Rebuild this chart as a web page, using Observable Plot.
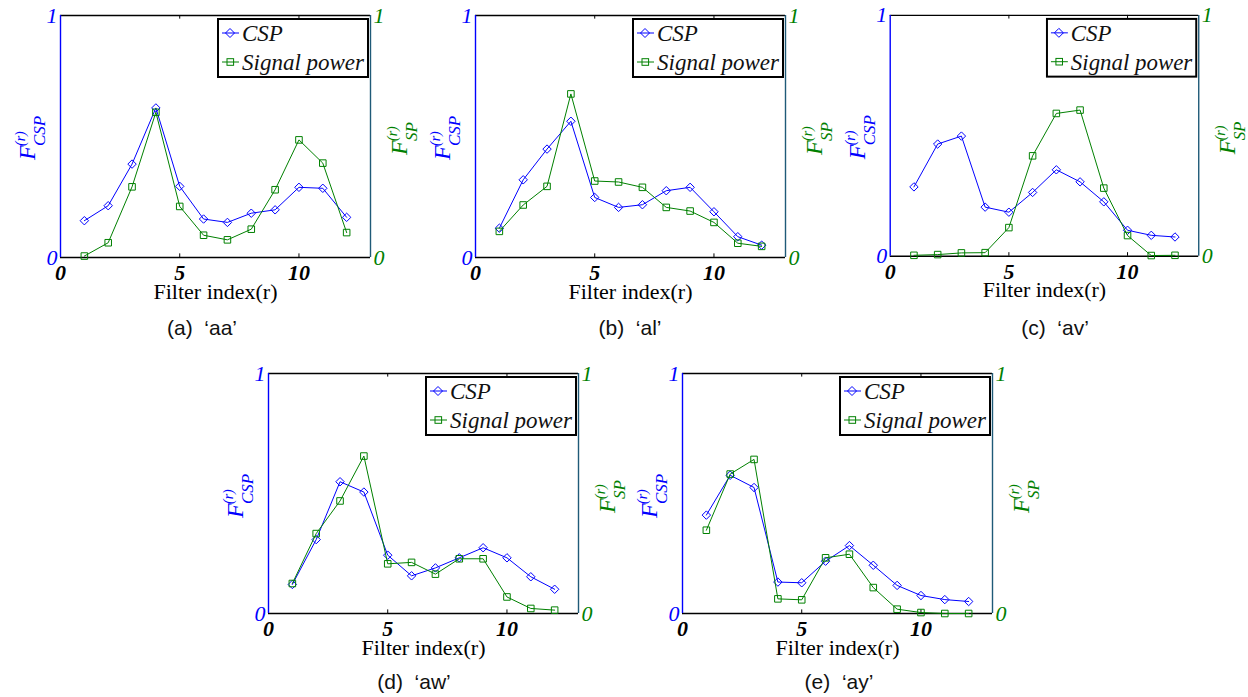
<!DOCTYPE html>
<html><head><meta charset="utf-8">
<script src="https://cdn.jsdelivr.net/npm/d3@7"></script>
<script src="https://cdn.jsdelivr.net/npm/@observablehq/plot@0.6"></script>
<style>
body{margin:0;background:#fff;}
#wrap{position:relative;width:1248px;height:697px;overflow:hidden;background:#fff;}
.panel{position:absolute;}
.cap{position:absolute;width:200px;text-align:center;font-family:"Liberation Sans",Arial,sans-serif;font-size:21px;line-height:22px;white-space:pre;color:#111;}
svg [aria-label="x-axis tick label"] text{font-family:"Liberation Serif",serif;font-weight:bold;font-style:italic;font-size:22px;}
svg [aria-label="y-axis tick label"] text{font-family:"Liberation Serif",serif;font-style:italic;font-size:22px;}
svg text.ser{font-family:"Liberation Serif",serif;font-style:italic;}
</style></head>
<body><div id="wrap"></div>
<script>
// ---- data ----
const filterIndex = [1,2,3,4,5,6,7,8,9,10,11,12];
const panelLetters = ["a","b","c","d","e"];
const panelNames = ["aa","al","av","aw","ay"];
const seriesNames = ["CSP","Signal power"];
const xTicks = [0,5,10];
const yTicks = [0,1];
const xLabel = "Filter index(r)";

const cspAA = [0.152,0.214,0.386,0.618,0.294,0.159,0.145,0.183,0.197,0.290,0.286,0.166];
const spAA  = [0.006,0.061,0.292,0.600,0.211,0.092,0.073,0.117,0.280,0.486,0.390,0.103];
const cspAL = [0.121,0.321,0.448,0.563,0.248,0.207,0.218,0.276,0.290,0.189,0.086,0.051];
const spAL  = [0.108,0.217,0.294,0.676,0.316,0.312,0.290,0.207,0.192,0.145,0.059,0.046];
const cspAV = [0.288,0.466,0.499,0.204,0.183,0.265,0.359,0.309,0.226,0.108,0.087,0.080];
const spAV  = [0.004,0.007,0.014,0.015,0.119,0.417,0.593,0.607,0.283,0.086,0.003,0.004];
const cspAW = [0.121,0.308,0.549,0.506,0.243,0.157,0.190,0.232,0.274,0.232,0.153,0.101];
const spAW  = [0.125,0.333,0.469,0.656,0.207,0.213,0.164,0.228,0.228,0.069,0.021,0.014];
const cspAY = [0.410,0.576,0.525,0.131,0.128,0.218,0.283,0.201,0.117,0.075,0.058,0.050];
const spAY  = [0.347,0.581,0.642,0.061,0.057,0.232,0.247,0.108,0.018,0.004,0.000,0.000];

const cspSeries = [cspAA,cspAL,cspAV,cspAW,cspAY];
const spSeries  = [spAA,spAL,spAV,spAW,spAY];

// ---- layout ----
const BLUE = "#0000ff", GREEN = "#008000", RIGHTAX = "#1f5a78";
const SERIF = '"Liberation Serif",serif';
const panelPos = [ {left:0,top:0,h:242}, {left:415,top:0,h:242}, {left:830,top:0,h:242},
                   {left:208,top:358,h:240}, {left:622,top:358,h:240} ];
const capPos = [ {cx:202,cy:328},{cx:630,cy:328},{cx:1055,cy:328},{cx:414,cy:682},{cx:839,cy:682} ];

const wrap = document.getElementById("wrap");
const ML = 60, MR = 50, MT = 15, MB = 53, W = 420;

panelLetters.forEach((letter, i) => {
  const pos = panelPos[i];
  const cspRows = filterIndex.map((r, k) => ({r, v: cspSeries[i][k]}));
  const spRows  = filterIndex.map((r, k) => ({r, v: spSeries[i][k]}));
  const innerTicks = xTicks.filter(d => d > 0);
  const plot = Plot.plot({
    width: W, height: MT + pos.h + MB,
    marginLeft: ML, marginRight: MR, marginTop: MT, marginBottom: MB,
    x: {domain: [0, 13]},
    y: {domain: [0, 1]},
    style: {background: "transparent", fontFamily: SERIF, overflow: "visible"},
    marks: [
      Plot.ruleY([0, 1], {stroke: "black", strokeWidth: 1.4}),
      Plot.ruleX([0], {stroke: BLUE, strokeWidth: 1.4}),
      Plot.ruleX([13], {stroke: RIGHTAX, strokeWidth: 1.4}),
      Plot.ruleX(innerTicks, {y1: 1, y2: 0.985, stroke: "black"}),
      Plot.ruleX(innerTicks, {y1: 0, y2: 0.015, stroke: "black"}),
      Plot.line(cspRows, {x: "r", y: "v", stroke: BLUE, strokeWidth: 1}),
      Plot.dot(cspRows, {x: "r", y: "v", symbol: "diamond2", r: 3.8, stroke: BLUE, fill: "none", strokeWidth: 1}),
      Plot.line(spRows, {x: "r", y: "v", stroke: GREEN, strokeWidth: 1}),
      Plot.dot(spRows, {x: "r", y: "v", symbol: "square", r: 3.7, stroke: GREEN, fill: "none", strokeWidth: 1}),
      Plot.axisX({ticks: xTicks, tickSize: 0, tickPadding: 7, label: null, fill: "black", tickFormat: d => String(d)}),
      Plot.axisY({anchor: "left", ticks: yTicks, tickSize: 0, tickPadding: 3, label: null, color: BLUE, tickFormat: d => String(d)}),
      Plot.axisY({anchor: "right", ticks: yTicks, tickSize: 0, tickPadding: 3, label: null, color: GREEN, tickFormat: d => String(d)}),
      Plot.text([xLabel], {text: d => d, frameAnchor: "bottom", dy: 41, fontSize: 22, fontFamily: SERIF, fill: "black"})
    ]
  });

  const svg = d3.select(plot);
  const L = ML, T = MT, R = W - MR;
  // left axis title F^(r)_CSP
  const tl = svg.append("text").attr("class", "ser")
    .attr("transform", `translate(${L - 25},${T + 145}) rotate(-90)`)
    .attr("text-anchor", "start").attr("fill", BLUE);
  tl.append("tspan").attr("x", 0).attr("y", 0).attr("font-size", 24).text("F");
  tl.append("tspan").attr("x", 14).attr("y", -10).attr("font-size", 14).text("(r)");
  tl.append("tspan").attr("x", 14).attr("y", 10).attr("font-size", 17).text("CSP");
  // right axis title F^(r)_SP
  const tr = svg.append("text").attr("class", "ser")
    .attr("transform", `translate(${R + 37},${T + 140}) rotate(-90)`)
    .attr("text-anchor", "start").attr("fill", GREEN);
  tr.append("tspan").attr("x", 0).attr("y", 0).attr("font-size", 24).text("F");
  tr.append("tspan").attr("x", 14).attr("y", -10).attr("font-size", 14).text("(r)");
  tr.append("tspan").attr("x", 14).attr("y", 10).attr("font-size", 17).text("SP");

  // legend
  const lg = svg.append("g").attr("transform", `translate(${L + 158},${T + 4})`);
  lg.append("rect").attr("x", 0).attr("y", 0).attr("width", 150).attr("height", 58)
    .attr("fill", "white").attr("stroke", "black").attr("stroke-width", 2);
  const rowsY = [14, 43];
  const colors = [BLUE, GREEN];
  rowsY.forEach((yy, j) => {
    lg.append("line").attr("x1", 4).attr("x2", 21).attr("y1", yy).attr("y2", yy)
      .attr("stroke", colors[j]).attr("stroke-width", 1);
    if (j === 0) {
      lg.append("path").attr("d", `M12,${yy-4.5}L16.5,${yy}L12,${yy+4.5}L7.5,${yy}Z`)
        .attr("fill", "none").attr("stroke", BLUE);
    } else {
      lg.append("rect").attr("x", 9).attr("y", yy - 3.3).attr("width", 6.6).attr("height", 6.6)
        .attr("fill", "none").attr("stroke", GREEN);
    }
    lg.append("text").attr("class", "ser").attr("x", 24).attr("y", yy + 8)
      .attr("text-anchor", "start").attr("font-size", 23)
      .attr("fill", "#111").text(seriesNames[j]);
  });

  const div = document.createElement("div");
  div.className = "panel";
  div.style.left = pos.left + "px";
  div.style.top = pos.top + "px";
  div.appendChild(plot);
  wrap.appendChild(div);

  const cap = document.createElement("div");
  cap.className = "cap";
  cap.style.left = (capPos[i].cx - 100) + "px";
  cap.style.top = (capPos[i].cy - 11) + "px";
  cap.textContent = `(${letter})  \u2018${panelNames[i]}\u2019`;
  wrap.appendChild(cap);
});
</script>
</body></html>
